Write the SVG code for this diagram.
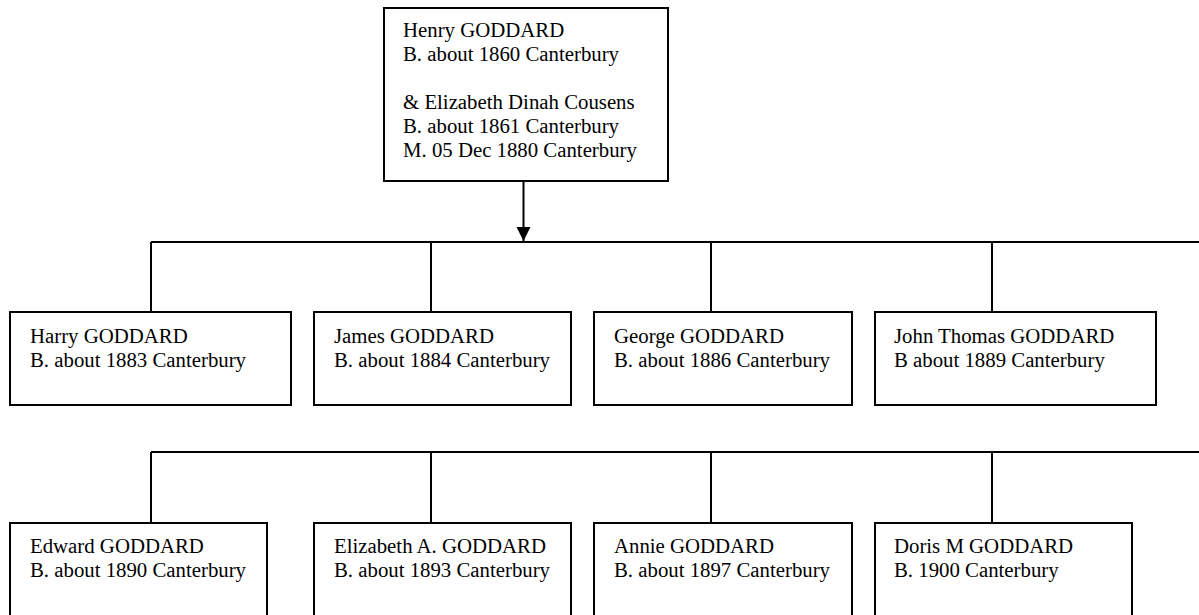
<svg xmlns="http://www.w3.org/2000/svg" width="1199" height="615" viewBox="0 0 1199 615">
<style>
.box{fill:#fff;stroke:#000;stroke-width:2}
.ln{fill:none;stroke:#000;stroke-width:2}
text{font-family:"Liberation Serif","Times New Roman",serif;font-size:20.8px;fill:#000}
</style>
<defs>
<marker id="arr" viewBox="0 0 14 15" refX="14" refY="7" markerWidth="14" markerHeight="15" markerUnits="userSpaceOnUse" orient="auto">
<path d="M0,0 L14,7 L0,14 Z" fill="#000"/>
</marker>
</defs>
<rect width="1199" height="615" fill="#fff"/>
<g id="connectors">
<line class="ln" x1="523.5" y1="181" x2="523.5" y2="241" marker-end="url(#arr)"/>
<line class="ln" x1="151" y1="242" x2="1200" y2="242"/>
<line class="ln" x1="151" y1="242" x2="151" y2="312"/>
<line class="ln" x1="431" y1="242" x2="431" y2="312"/>
<line class="ln" x1="711" y1="242" x2="711" y2="312"/>
<line class="ln" x1="992" y1="242" x2="992" y2="312"/>
<line class="ln" x1="151" y1="452" x2="1200" y2="452"/>
<line class="ln" x1="151" y1="452" x2="151" y2="523"/>
<line class="ln" x1="431" y1="452" x2="431" y2="523"/>
<line class="ln" x1="711" y1="452" x2="711" y2="523"/>
<line class="ln" x1="992" y1="452" x2="992" y2="523"/>
</g>
<g id="parents">
<rect class="box" x="384" y="8" width="284" height="173"/>
<text x="403" y="37">Henry GODDARD</text>
<text x="403" y="61">B. about 1860 Canterbury</text>
<text x="403" y="109">&amp; Elizabeth Dinah Cousens</text>
<text x="403" y="133">B. about 1861 Canterbury</text>
<text x="403" y="157">M. 05 Dec 1880 Canterbury</text>
</g>
<g id="harry">
<rect class="box" x="10" y="312" width="281" height="93"/>
<text x="30" y="343">Harry GODDARD</text>
<text x="30" y="367">B. about 1883 Canterbury</text>
</g>
<g id="james">
<rect class="box" x="314" y="312" width="257" height="93"/>
<text x="334" y="343">James GODDARD</text>
<text x="334" y="367">B. about 1884 Canterbury</text>
</g>
<g id="george">
<rect class="box" x="594" y="312" width="258" height="93"/>
<text x="614" y="343">George GODDARD</text>
<text x="614" y="367">B. about 1886 Canterbury</text>
</g>
<g id="john">
<rect class="box" x="875" y="312" width="281" height="93"/>
<text x="894" y="343">John Thomas GODDARD</text>
<text x="894" y="367">B about 1889 Canterbury</text>
</g>
<g id="edward">
<rect class="box" x="10" y="523" width="257" height="100"/>
<text x="30" y="553">Edward GODDARD</text>
<text x="30" y="577">B. about 1890 Canterbury</text>
</g>
<g id="elizabeth">
<rect class="box" x="314" y="523" width="257" height="100"/>
<text x="334" y="553">Elizabeth A. GODDARD</text>
<text x="334" y="577">B. about 1893 Canterbury</text>
</g>
<g id="annie">
<rect class="box" x="594" y="523" width="258" height="100"/>
<text x="614" y="553">Annie GODDARD</text>
<text x="614" y="577">B. about 1897 Canterbury</text>
</g>
<g id="doris">
<rect class="box" x="875" y="523" width="257" height="100"/>
<text x="894" y="553">Doris M GODDARD</text>
<text x="894" y="577">B. 1900 Canterbury</text>
</g>
</svg>
